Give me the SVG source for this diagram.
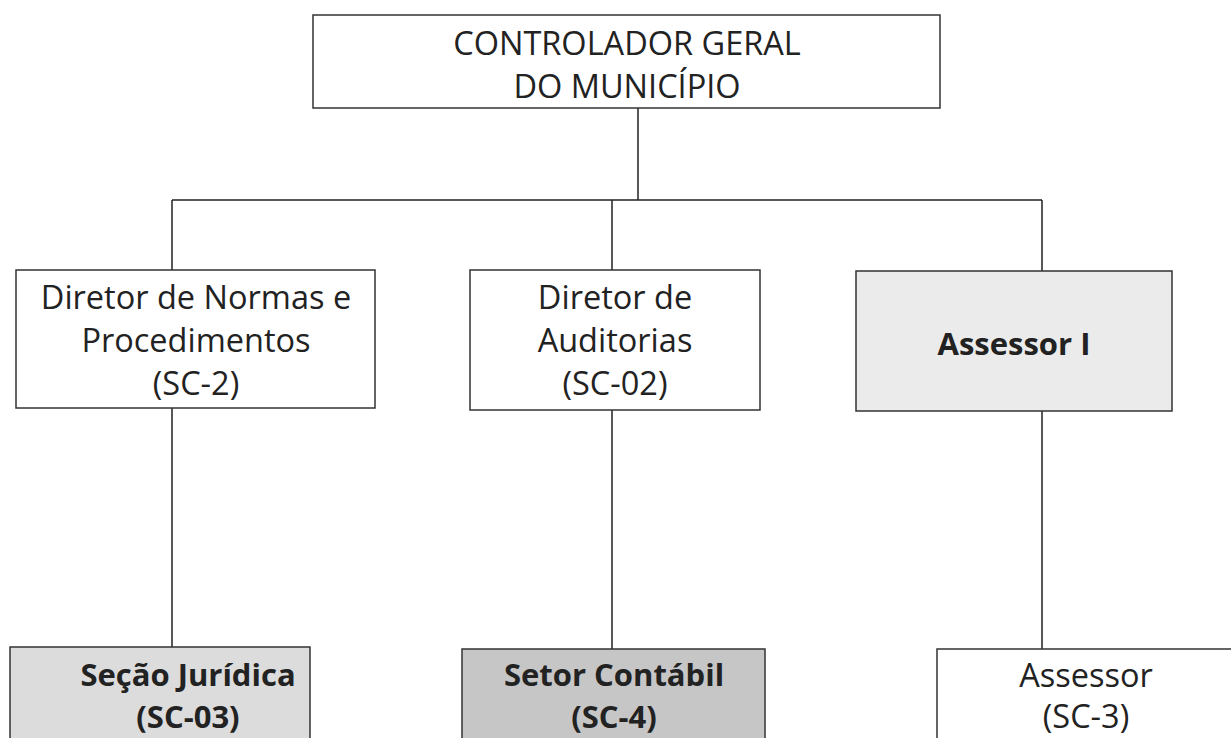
<svg xmlns="http://www.w3.org/2000/svg" width="1231" height="738" viewBox="0 0 1231 738">
<style>
.box{stroke:#333;stroke-width:1.5}
.t{font-family:"Open Sans","Liberation Sans",sans-serif;font-size:32.5px;fill:#222;text-anchor:middle}
.b{font-weight:bold;font-size:31px}
.c{stroke:#222;stroke-width:1.5;fill:none}
</style>
<rect width="1231" height="738" fill="#fff"/>
<g id="connectors">
<path class="c" d="M638 108V200M172 200H1042M172 200V270M612 200V270M1042 200V271M172 408V647M612 410V649M1042 411V649"/>
</g>
<g id="controlador">
<rect class="box" x="313" y="15" width="627" height="93" fill="#fff"/>
<text class="t" x="627" y="55">CONTROLADOR GERAL</text>
<text class="t" x="627" y="98">DO MUNICÍPIO</text>
</g>
<g id="diretor-normas">
<rect class="box" x="16" y="270" width="359" height="138" fill="#fff"/>
<text class="t" x="196" y="309">Diretor de Normas e</text>
<text class="t" x="196" y="352">Procedimentos</text>
<text class="t" x="196" y="395">(SC-2)</text>
</g>
<g id="diretor-auditorias">
<rect class="box" x="470" y="270" width="290" height="140" fill="#fff"/>
<text class="t" x="615" y="309">Diretor de</text>
<text class="t" x="615" y="352">Auditorias</text>
<text class="t" x="615" y="395">(SC-02)</text>
</g>
<g id="assessor-i">
<rect class="box" x="856" y="271" width="316" height="140" fill="#ebebeb"/>
<text class="t b" x="1014" y="355">Assessor I</text>
</g>
<g id="secao-juridica">
<rect class="box" x="10" y="647" width="300" height="100" fill="#dcdcdc"/>
<text class="t b" x="188" y="686">Seção Jurídica</text>
<text class="t b" x="188" y="728">(SC-03)</text>
</g>
<g id="setor-contabil">
<rect class="box" x="462" y="649" width="303" height="100" fill="#c6c6c6"/>
<text class="t b" x="614" y="686">Setor Contábil</text>
<text class="t b" x="614" y="728">(SC-4)</text>
</g>
<g id="assessor">
<rect class="box" x="937" y="649" width="300" height="100" fill="#fff"/>
<text class="t" x="1086" y="687">Assessor</text>
<text class="t" x="1086" y="728">(SC-3)</text>
</g>
</svg>
